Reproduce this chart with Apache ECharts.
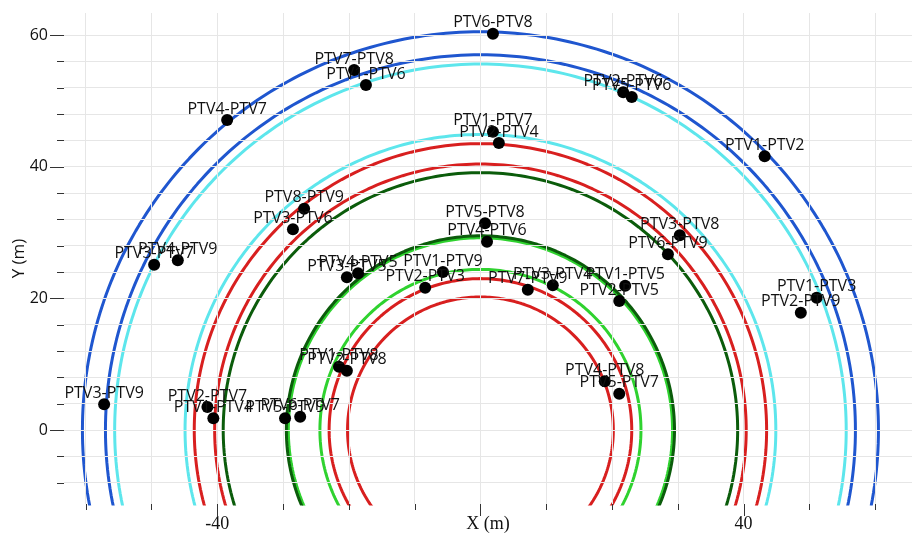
<!DOCTYPE html>
<html><head><meta charset="utf-8">
<script src="https://cdn.jsdelivr.net/npm/echarts@6/dist/echarts.min.js"></script>
<style>html,body{margin:0;padding:0;background:#fff}#c{width:912px;height:534px}</style>
</head><body><div id="c"></div>
<script>
// ---- data ----
const pairLabels = [
  'PTV6-PTV8','PTV7-PTV8','PTV1-PTV6','PTV4-PTV7','PTV2-PTV6','PTV5-PTV6','PTV1-PTV2',
  'PTV1-PTV7','PTV2-PTV4','PTV8-PTV9','PTV3-PTV6','PTV3-PTV7','PTV4-PTV9','PTV5-PTV8',
  'PTV4-PTV6','PTV3-PTV8','PTV6-PTV9','PTV3-PTV5','PTV4-PTV5','PTV1-PTV9','PTV2-PTV3',
  'PTV7-PTV9','PTV3-PTV4','PTV1-PTV5','PTV2-PTV5','PTV1-PTV3','PTV2-PTV9','PTV1-PTV8',
  'PTV2-PTV8','PTV4-PTV8','PTV5-PTV7','PTV3-PTV9','PTV2-PTV7','PTV1-PTV4','PTV5-PTV9','PTV6-PTV7'
];
const pairX = [
  1.9, -19.2, -17.4, -38.5, 21.7, 23.0, 43.2,
  1.9, 2.8, -26.8, -28.5, -49.6, -46.0, 0.7,
  1.0, 30.3, 28.5, -20.3, -18.6, -5.7, -8.4,
  7.2, 11.0, 22.0, 21.1, 51.1, 48.7, -21.5,
  -20.3, 18.9, 21.1, -57.2, -41.5, -40.6, -29.7, -27.4
];
const pairY = [
  60.2, 54.7, 52.4, 47.1, 51.3, 50.6, 41.6,
  45.3, 43.6, 33.6, 30.5, 25.1, 25.8, 31.4,
  28.6, 29.6, 26.7, 23.2, 23.8, 24.0, 21.6,
  21.3, 22.0, 21.9, 19.6, 20.1, 17.8, 9.6,
  9.0, 7.4, 5.5, 3.9, 3.5, 1.8, 1.8, 2.0
];
const ringRadius = [20.2, 23.0, 24.4, 29.2, 29.5, 39.1, 40.4, 43.5, 44.9, 55.6, 57.0, 60.5];
const ringGroup  = ['red','red','lime','lime','green','green','red','red','cyan','cyan','blue','blue'];
const xMinorTicks = [-60,-50,-40,-30,-20,-10,0,10,20,30,40,50,60];
const xMajorTicks = [-40,0,40];
const xTickLabels = [-40,40];
const yMinorTicks = [-8,-4,0,4,8,12,16,20,24,28,32,36,40,44,48,52,56,60];
const yMajorTicks = [0,20,40,60];
const yTickLabels = [0,20,40,60];

// ---- styles ----
const ringColor = {red:'#d81f1f', lime:'#2fd22f', green:'#0b5c0b', cyan:'#5de6ec', blue:'#1f56cf'};
const X_MIN = -63.3, X_MAX = 65.6, Y_MIN = -11.24, Y_MAX = 63.35;
const TICK_COLOR = '#333';

function ringPoints(r){
  const pts = [];
  for (let a = 0; a <= 360; a += 1) {
    const t = a * Math.PI / 180;
    pts.push([r * Math.cos(t), r * Math.sin(t)]);
  }
  return pts;
}

const series = [];
series.push({
  type:'line', data:[], xAxisIndex:0, yAxisIndex:0, z:0, silent:true,
  markLine:{
    silent:true, symbol:['none','none'], animation:false,
    label:{show:false},
    lineStyle:{color:'#e6e6e6', width:1, type:'solid'},
    data:[...xMinorTicks.map(v=>({xAxis:v})), ...yMinorTicks.map(v=>({yAxis:v}))]
  }
});
ringRadius.forEach((r,i)=>{
  series.push({
    type:'line', data:ringPoints(r), xAxisIndex:0, yAxisIndex:0, z:2,
    showSymbol:false, clip:true, silent:true,
    lineStyle:{color:ringColor[ringGroup[i]], width:3}
  });
});
series.push({
  type:'scatter', xAxisIndex:0, yAxisIndex:0, z:10,
  symbolSize:12, itemStyle:{color:'#000', opacity:1},
  data: pairX.map((x,i)=>({name:pairLabels[i], value:[x, pairY[i]]})),
  label:{show:true, position:'top', distance:-3, formatter:'{b}',
         fontFamily:'Open Sans', fontSize:16, color:'#111', opacity:1},
  labelLayout:{hideOverlap:false}
});

const chart = echarts.init(document.getElementById('c'), null, {renderer:'canvas'});
chart.setOption({
  animation:false,
  backgroundColor:'#ffffff',
  grid:{left:64, right:0, top:13, bottom:30, containLabel:false, outerBoundsMode:'none'},
  xAxis:[
    {type:'value', min:X_MIN, max:X_MAX, position:'bottom',
     axisLine:{show:false, onZero:false}, splitLine:{show:false},
     axisTick:{show:false}, axisLabel:{show:false}},
    {type:'value', min:X_MIN, max:X_MAX, position:'bottom',
     axisLine:{show:false, onZero:false}, splitLine:{show:false},
     axisTick:{show:false},
     axisLabel:{show:true, customValues:xTickLabels, margin:11,
                fontFamily:'Liberation Serif', fontSize:18, color:'#111'},
     name:'X (m)', nameLocation:'middle', nameGap:11, nameMoveOverlap:false,
     nameTextStyle:{fontFamily:'Liberation Serif', fontSize:18, color:'#111'}}
  ],
  yAxis:[
    {type:'value', min:Y_MIN, max:Y_MAX, position:'left',
     axisLine:{show:false, onZero:false}, splitLine:{show:false},
     axisTick:{show:false}, axisLabel:{show:false}},
    {type:'value', min:Y_MIN, max:Y_MAX, position:'left',
     axisLine:{show:false, onZero:false}, splitLine:{show:false},
     axisTick:{show:false},
     axisLabel:{show:true, customValues:yTickLabels, margin:16,
                fontFamily:'Open Sans', fontSize:16, color:'#111'},
     name:'Y (m)', nameLocation:'middle', nameGap:36, nameMoveOverlap:false,
     nameTextStyle:{fontFamily:'Open Sans', fontSize:17, color:'#111'}}
  ],
  series: series
});

// Axis ticks drawn at positions given by the chart's own scales
const yBottomPx = chart.convertToPixel({yAxisIndex:0}, Y_MIN);
const xLeftPx = chart.convertToPixel({xAxisIndex:0}, X_MIN);
const tickGraphics = [];
function tickLine(x1,y1,x2,y2){
  return {type:'line', silent:true, z:50,
          shape:{x1:x1, y1:y1, x2:x2, y2:y2},
          style:{stroke:TICK_COLOR, lineWidth:1}};
}
xMinorTicks.forEach(v=>{
  const px = Math.round(chart.convertToPixel({xAxisIndex:0}, v)) + 0.5;
  const len = xMajorTicks.includes(v) ? 12 : 6;
  tickGraphics.push(tickLine(px, yBottomPx, px, yBottomPx + len));
});
yMinorTicks.forEach(v=>{
  const py = Math.round(chart.convertToPixel({yAxisIndex:0}, v)) + 0.5;
  const len = yMajorTicks.includes(v) ? 14 : 7;
  tickGraphics.push(tickLine(xLeftPx - len, py, xLeftPx, py));
});
chart.setOption({graphic: tickGraphics});
</script>
</body></html>
